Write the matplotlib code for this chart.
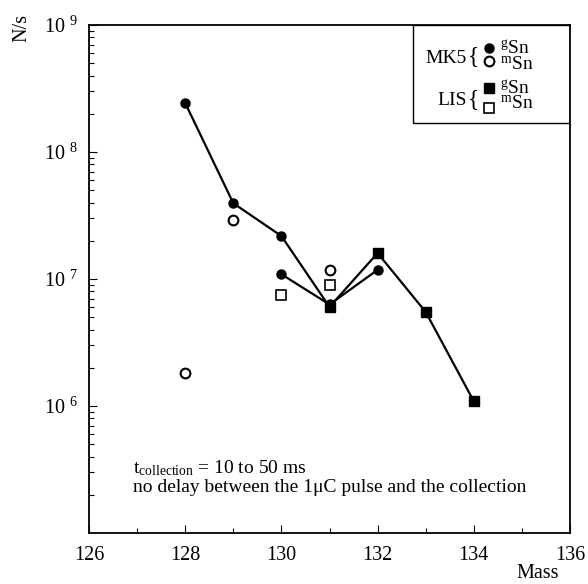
import matplotlib
matplotlib.use('Agg')
import matplotlib.pyplot as plt
from matplotlib.patches import Rectangle
from matplotlib.ticker import FixedLocator, FixedFormatter, LogLocator, NullFormatter

plt.rcParams['font.family'] = ['Liberation Serif', 'DejaVu Serif']
plt.rcParams['mathtext.fontset'] = 'custom'
plt.rcParams['mathtext.rm'] = 'Liberation Serif'
plt.rcParams['mathtext.it'] = 'Liberation Serif:italic'

# MK5 source, ground state (filled circles)
mk5_g_mass = [128, 129, 130, 130, 131, 132]
mk5_g_rate = [2.43e8, 3.95e7, 2.18e7, 1.09e7, 6.3e6, 1.18e7]
# MK5 source, isomer (open circles)
mk5_m_mass = [128, 129, 131]
mk5_m_rate = [1.82e6, 2.92e7, 1.18e7]
# LIS, ground state (filled squares)
lis_g_mass = [131, 132, 133, 134]
lis_g_rate = [6.03e6, 1.60e7, 5.5e6, 1.09e6]
# LIS, isomer (open squares)
lis_m_mass = [130, 131]
lis_m_rate = [7.48e6, 8.97e6]

x_ticks = [126, 128, 130, 132, 134, 136]
y_ticks = [1e6, 1e7, 1e8, 1e9]
y_labels = ['10 $^{6}$', '10 $^{7}$', '10 $^{8}$', '10 $^{9}$']

fig = plt.figure(figsize=(5.88, 5.84), dpi=100)
ax = fig.add_axes([89 / 588, 51 / 584, 481 / 588, 508 / 584])

# upper line: MK5 128-130 then LIS 131-134
line1_x = mk5_g_mass[:3] + lis_g_mass
line1_y = mk5_g_rate[:3] + lis_g_rate
ax.plot(line1_x, line1_y, color='black', lw=1.6, zorder=2)
# lower line: second MK5 run 130-132
ax.plot(mk5_g_mass[3:], mk5_g_rate[3:], color='black', lw=1.6, zorder=2)

ax.plot(mk5_g_mass, mk5_g_rate, 'o', color='black', ms=6.5, ls='none', zorder=3)
ax.plot(mk5_m_mass, mk5_m_rate, 'o', mfc='white', mec='black', mew=1.5, ms=7, ls='none', zorder=3)
ax.plot(lis_g_mass, lis_g_rate, 's', color='black', ms=6.5, ls='none', zorder=3)
ax.plot(lis_m_mass, lis_m_rate, 's', mfc='white', mec='black', mew=1.2, ms=7.5, ls='none', zorder=3)

ax.set_yscale('log')
ax.set_xlim(126, 136)
ax.set_ylim(1e5, 1e9)

ax.xaxis.set_major_locator(FixedLocator(x_ticks))
ax.xaxis.set_minor_locator(FixedLocator([127, 129, 131, 133, 135]))
ax.yaxis.set_major_locator(FixedLocator(y_ticks))
ax.yaxis.set_major_formatter(FixedFormatter(y_labels))
ax.yaxis.set_minor_locator(LogLocator(base=10, subs=range(2, 10)))
ax.yaxis.set_minor_formatter(NullFormatter())
ax.tick_params(which='both', direction='in', top=False, right=False, labelsize=14.5, width=0.8)
ax.tick_params(which='major', length=6)
ax.tick_params(which='minor', length=3.5)
ax.tick_params(axis='x', pad=9)
ax.tick_params(axis='y', pad=8)
for sp in ax.spines.values():
    sp.set_linewidth(1.3)

fig.text(22 / 588, 1 - 28 / 584, 'N/s', rotation=90, fontsize=14.5, ha='center', va='center')
fig.text(538 / 588, 1 - 574 / 584, 'Mass', fontsize=14.5, ha='center', va='center')

ax.text(0.091, 0.128, 't$_{\\mathrm{collection}}$ = 10 to 50 ms', transform=ax.transAxes,
        fontsize=14, va='center')
ax.text(0.091, 0.089, 'no delay between the 1\u03bcC pulse and the collection',
        transform=ax.transAxes, fontsize=14, va='center')

# legend box drawn by hand
ax.add_patch(Rectangle((0.674, 0.807), 0.326, 0.193, transform=ax.transAxes,
                       fill=False, lw=1.0, color='black', zorder=4))
ax.text(0.785, 0.935, 'MK5', transform=ax.transAxes, fontsize=14, ha='right', va='center')
ax.text(0.787, 0.937, '{', transform=ax.transAxes, fontsize=17, ha='left', va='center')
ax.text(0.785, 0.852, 'LIS', transform=ax.transAxes, fontsize=14, ha='right', va='center')
ax.text(0.787, 0.854, '{', transform=ax.transAxes, fontsize=17, ha='left', va='center')
ax.plot([0.832], [0.955], 'o', color='black', ms=6.5, transform=ax.transAxes, clip_on=False)
ax.plot([0.832], [0.929], 'o', mfc='white', mec='black', mew=1.5, ms=7, transform=ax.transAxes, clip_on=False)
ax.plot([0.832], [0.876], 's', color='black', ms=6.5, transform=ax.transAxes, clip_on=False)
ax.plot([0.832], [0.837], 's', mfc='white', mec='black', mew=1.2, ms=7.5, transform=ax.transAxes, clip_on=False)
ax.text(0.855, 0.937, '$^{\\mathrm{g}}$Sn\n$^{\\mathrm{m}}$Sn', transform=ax.transAxes,
        fontsize=14, va='center', linespacing=0.8)
ax.text(0.855, 0.860, '$^{\\mathrm{g}}$Sn\n$^{\\mathrm{m}}$Sn', transform=ax.transAxes,
        fontsize=14, va='center', linespacing=0.8)

fig.savefig('out.png', dpi=100)
